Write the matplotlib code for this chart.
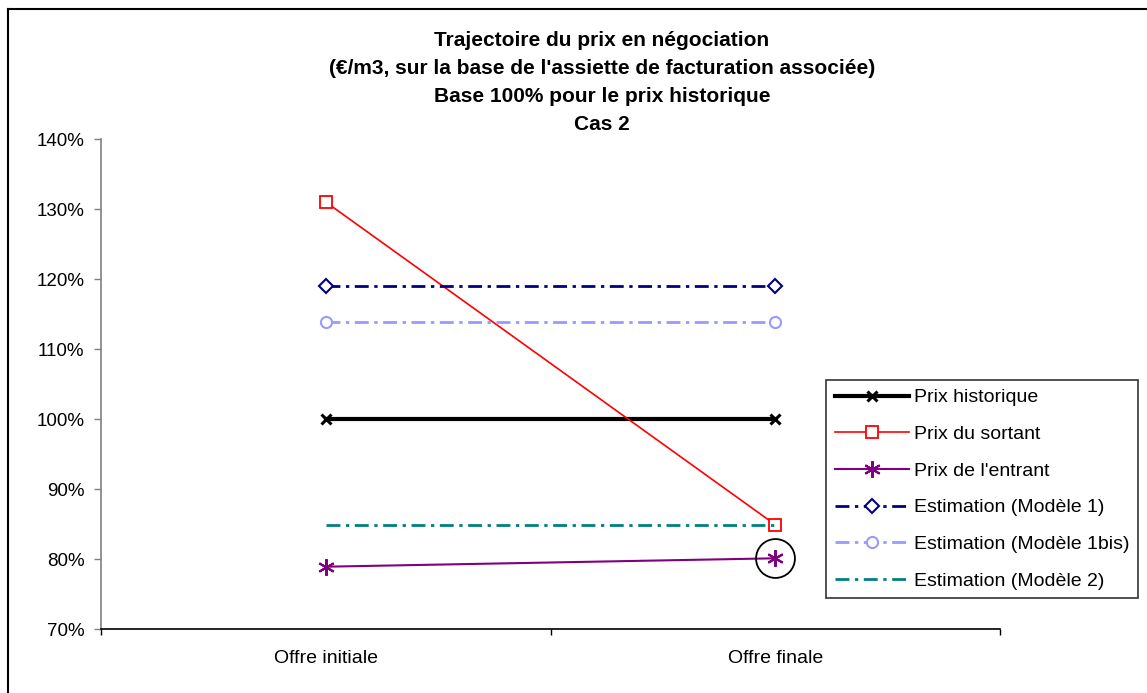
import matplotlib

matplotlib.use("Agg")
import matplotlib.pyplot as plt
from matplotlib.lines import Line2D

plt.rcParams["font.family"] = ["Liberation Sans", "DejaVu Sans"]

# Negotiated price path, base 100% = historical price
categories = ["Offre initiale", "Offre finale"]
prix_historique = [100.0, 100.0]
prix_sortant = [131.0, 84.9]
prix_entrant = [78.9, 80.1]
modele_1 = [119.0, 119.0]
modele_1bis = [113.8, 113.8]
modele_2 = [84.9, 84.9]
y_ticks = [70, 80, 90, 100, 110, 120, 130, 140]
title_lines = [
    "Trajectoire du prix en négociation",
    "(€/m3, sur la base de l'assiette de facturation associée)",
    "Base 100% pour le prix historique",
    "Cas 2",
]

W, H = 1147, 693
fig = plt.figure(figsize=(W / 100, H / 100), dpi=100)
ax = fig.add_axes([101 / W, 1 - 629 / H, 899 / W, 490 / H])

x = list(range(len(categories)))
dashdot = (0, (5, 2, 1.2, 2))

ax.plot(x, prix_historique, color="black", lw=3, marker="x", ms=7, mew=2.2,
        label="Prix historique")
ax.plot(x, prix_sortant, color="red", lw=1.2, marker="s", ms=8, mfc="white",
        mec="red", mew=1.3, label="Prix du sortant")
ax.plot(x, prix_entrant, color="purple", lw=1.5, marker=(6, 2, 0), ms=12,
        mew=1.5, label="Prix de l'entrant")
ax.plot(x, modele_1, color="#000080", lw=2, ls=dashdot, marker="D", ms=7,
        mfc="white", mec="#000080", mew=1.5, label="Estimation (Modèle 1)")
ax.plot(x, modele_1bis, color="#9999FF", lw=2, ls=dashdot, marker="o", ms=8,
        mfc="white", mec="#9999FF", mew=1.5, label="Estimation (Modèle 1bis)")
ax.plot(x, modele_2, color="#008080", lw=2, ls=dashdot,
        label="Estimation (Modèle 2)")

# highlight the final entrant offer
ax.plot([x[-1]], [prix_entrant[-1]], marker="o", ms=28, mfc="none",
        mec="black", mew=1.3, ls="none")

ax.set_xlim(-0.5, len(categories) - 0.5)
ax.set_ylim(70, 140)
ax.set_yticks(y_ticks)
ax.set_yticklabels([f"{t}%" for t in y_ticks], fontsize=13.5)
ax.set_xticks([-0.5, 0.5, 1.5])
ax.set_xticklabels([])
ax.set_xticks(x, minor=True)
ax.set_xticklabels(categories, minor=True, fontsize=14)
ax.tick_params(axis="x", which="major", direction="out", length=4, width=1)
ax.tick_params(axis="x", which="minor", length=0, pad=15)
ax.tick_params(axis="y", direction="out", length=5, width=1, color="#808080", pad=7)

for side in ("top", "right"):
    ax.spines[side].set_visible(False)
ax.spines["left"].set_color("#808080")
ax.spines["left"].set_linewidth(1.2)
ax.spines["bottom"].set_color("black")
ax.spines["bottom"].set_linewidth(1.2)

leg = ax.legend(loc="upper left", bbox_to_anchor=(826 / W, 1 - 380 / H),
                bbox_transform=fig.transFigure, fontsize=14, frameon=True,
                fancybox=False, edgecolor="black", borderaxespad=0,
                handlelength=3.8, handletextpad=0.25, labelspacing=0.98,
                borderpad=0.45)
leg.get_frame().set_linewidth(1.2)

for i, line in enumerate(title_lines):
    fig.text(602 / W, 1 - (40 + 28 * i) / H, line, ha="center", va="center",
             fontsize=15, fontweight="bold")

# chart area border
fig.add_artist(Line2D([8 / W, 8 / W], [0, 1 - 9 / H], color="black", lw=1.5,
                      transform=fig.transFigure))
fig.add_artist(Line2D([8 / W, 1], [1 - 9 / H, 1 - 9 / H], color="black", lw=1.5,
                      transform=fig.transFigure))

fig.savefig("out.png", dpi=100)
